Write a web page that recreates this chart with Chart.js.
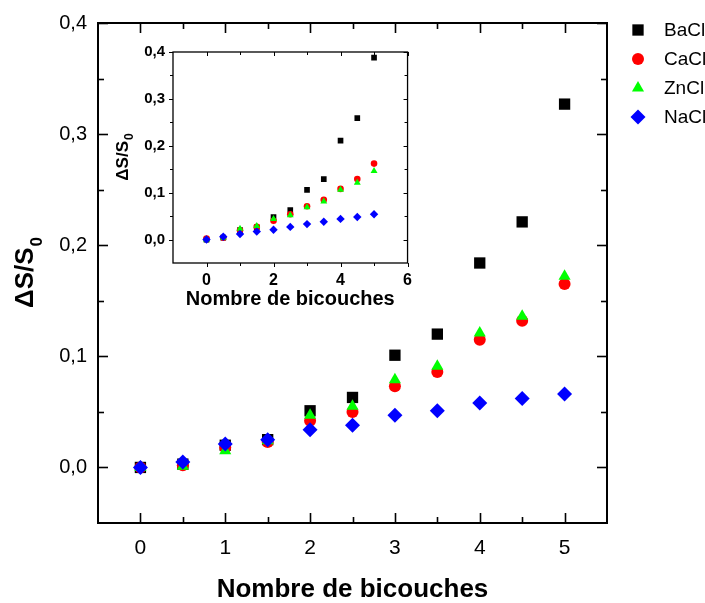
<!DOCTYPE html>
<html><head><meta charset="utf-8">
<script src="https://cdn.jsdelivr.net/npm/chart.js@4/dist/chart.umd.min.js"></script>
<style>
html,body{margin:0;padding:0;background:#fff;}
#wrap{position:relative;width:705px;height:603px;overflow:hidden;}
#main{position:absolute;left:0;top:0;}
#inset{position:absolute;left:100px;top:35px;}
</style></head><body>
<div id="wrap"><canvas id="main" width="705" height="603"></canvas><canvas id="inset" width="320" height="275"></canvas></div>
<script>
// ---- data ----
const seriesNames = ['BaCl', 'CaCl', 'ZnCl', 'NaCl'];
const layers = [0, 0.5, 1, 1.5, 2, 2.5, 3, 3.5, 4, 4.5, 5];

const mainBaCl = [0, 0.003, 0.020, 0.025, 0.051, 0.063, 0.101, 0.120, 0.184, 0.221, 0.327];
const mainCaCl = [0, 0.002, 0.018, 0.023, 0.042, 0.050, 0.073, 0.086, 0.115, 0.132, 0.165];
const mainZnCl = [0, 0.001, 0.015, 0.024, 0.047, 0.055, 0.079, 0.091, 0.121, 0.136, 0.172];
const mainNaCl = [0, 0.005, 0.021, 0.025, 0.034, 0.038, 0.047, 0.051, 0.058, 0.062, 0.066];

const insetBaCl = [0, 0.004, 0.020, 0.026, 0.048, 0.063, 0.106, 0.129, 0.211, 0.259, 0.388];
const insetCaCl = [0.002, 0.004, 0.020, 0.027, 0.040, 0.054, 0.071, 0.085, 0.108, 0.129, 0.162];
const insetZnCl = [0, 0.004, 0.023, 0.029, 0.044, 0.052, 0.069, 0.081, 0.106, 0.121, 0.146];
const insetNaCl = [0, 0.006, 0.012, 0.017, 0.021, 0.027, 0.033, 0.038, 0.044, 0.048, 0.054];

const mainXTicks = [0, 1, 2, 3, 4, 5];
const mainXMinor = [0.5, 1.5, 2.5, 3.5, 4.5];
const mainYTicks = [0, 0.1, 0.2, 0.3, 0.4];
const mainYMinor = [0.05, 0.15, 0.25, 0.35];
const insetXTicks = [0, 2, 4, 6];
const insetXMinor = [1, 3, 5];
const insetYTicks = [0, 0.1, 0.2, 0.3, 0.4];
const insetYMinor = [0.05, 0.15, 0.25, 0.35];

const xTitle = 'Nombre de bicouches';
const yTitleMain = 'ΔS/S';
const yTitleSub = '0';

// ---- styles ----
const FONT = "'Liberation Sans', Arial, sans-serif";
const colors = ['#000000', '#ff0000', '#00ff00', '#0000ff'];
const pstyles = ['rect', 'circle', 'triangle', 'rectRot'];
const mainRadii = [8, 6, 7, 7.5];
const insetRadii = [4, 3.3, 4, 4.2];
const orders = [4, 3, 2, 1];

function makeDatasets(arrs, radii) {
  return arrs.map((arr, i) => ({
    label: seriesNames[i],
    data: layers.map((x, j) => ({x: x, y: arr[j]})),
    pointStyle: pstyles[i],
    pointRadius: radii[i],
    pointHoverRadius: radii[i],
    pointBackgroundColor: colors[i],
    pointBorderColor: colors[i],
    pointBorderWidth: 0,
    showLine: false,
    order: orders[i]
  }));
}

function drawSubTitle(ctx, cx, cy, rot, size, subSize, subShift) {
  ctx.save();
  ctx.translate(cx, cy);
  if (rot) ctx.rotate(-Math.PI / 2);
  ctx.fillStyle = '#000';
  ctx.font = 'bold ' + size + 'px ' + FONT;
  const w1 = ctx.measureText(yTitleMain).width;
  ctx.font = 'bold ' + subSize + 'px ' + FONT;
  const w2 = ctx.measureText(yTitleSub).width;
  const start = -(w1 + w2) / 2;
  ctx.textBaseline = 'middle';
  ctx.textAlign = 'left';
  ctx.font = 'bold ' + size + 'px ' + FONT;
  ctx.fillText(yTitleMain, start, 0);
  ctx.font = 'bold ' + subSize + 'px ' + FONT;
  ctx.fillText(yTitleSub, start + w1 + 1, subShift);
  ctx.restore();
}

function framePlugin(cfg) {
  return {
    id: 'frameTicks',
    afterDraw(chart) {
      const ctx = chart.ctx, a = chart.chartArea, x = chart.scales.x, y = chart.scales.y;
      ctx.save();
      ctx.strokeStyle = '#000';
      ctx.lineWidth = cfg.tickLw;
      const xt = (vals, len) => vals.forEach(v => {
        const px = Math.round(x.getPixelForValue(v)) + 0.5;
        ctx.beginPath(); ctx.moveTo(px, a.bottom); ctx.lineTo(px, a.bottom + cfg.bottomDir * len); ctx.stroke();
        ctx.beginPath(); ctx.moveTo(px, a.top); ctx.lineTo(px, a.top + len); ctx.stroke();
      });
      const yt = (vals, len) => vals.forEach(v => {
        const py = Math.round(y.getPixelForValue(v)) + 0.5;
        ctx.beginPath(); ctx.moveTo(a.left, py); ctx.lineTo(a.left + cfg.leftDir * len, py); ctx.stroke();
        ctx.beginPath(); ctx.moveTo(a.right, py); ctx.lineTo(a.right - len, py); ctx.stroke();
      });
      xt(cfg.xMajor, cfg.major); xt(cfg.xMinor, cfg.minor);
      yt(cfg.yMajor, cfg.major); yt(cfg.yMinor, cfg.minor);
      ctx.lineWidth = cfg.frameLw;
      ctx.strokeRect(a.left, a.top, a.right - a.left, a.bottom - a.top);
      ctx.restore();
      cfg.titles(ctx, a);
    }
  };
}

function drawMarker(ctx, style, r, x, y) {
  if (Chart.helpers && Chart.helpers.drawPoint) {
    Chart.helpers.drawPoint(ctx, {pointStyle: style, radius: r, rotation: 0, borderWidth: 0}, x, y);
  }
}

const legendPlugin = {
  id: 'customLegend',
  afterDraw(chart) {
    const ctx = chart.ctx;
    ctx.save();
    seriesNames.forEach((name, i) => {
      const yy = 30 + i * 29;
      ctx.fillStyle = colors[i];
      ctx.strokeStyle = colors[i];
      drawMarker(ctx, pstyles[i], mainRadii[i], 638, yy);
      ctx.fillStyle = '#000';
      ctx.font = '19px ' + FONT;
      ctx.textAlign = 'left';
      ctx.textBaseline = 'middle';
      ctx.fillText(name, 664, yy + 1);
    });
    ctx.restore();
  }
};

function scaleOpts(min, max, tickVals, fmt, fontSize, bold, pad, fitKey, fitVal) {
  return {
    type: 'linear', min: min, max: max,
    afterBuildTicks: s => { s.ticks = tickVals.map(v => ({value: v})); },
    afterFit: s => { s[fitKey] = fitVal; },
    grid: {display: false, drawTicks: false},
    border: {display: false},
    ticks: {
      autoSkip: false, maxRotation: 0, minRotation: 0,
      color: '#000', padding: pad,
      font: {family: FONT, size: fontSize, weight: bold ? 'bold' : 'normal'},
      callback: fmt
    }
  };
}
const fmtY = v => v.toFixed(1).replace('.', ',');
const fmtX = v => String(v);

// ---- main chart ----
new Chart(document.getElementById('main'), {
  type: 'scatter',
  data: {datasets: makeDatasets([mainBaCl, mainCaCl, mainZnCl, mainNaCl], mainRadii)},
  options: {
    responsive: false, animation: false, devicePixelRatio: 1,
    layout: {padding: {top: 15, right: 98, left: 0, bottom: 0}},
    plugins: {legend: {display: false}, tooltip: {enabled: false}},
    scales: {
      x: scaleOpts(-0.5, 5.5, mainXTicks, fmtX, 21, false, 13, 'height', 80),
      y: scaleOpts(-0.05, 0.4, mainYTicks, fmtY, 20, false, 11, 'width', 98)
    }
  },
  plugins: [framePlugin({
    xMajor: mainXTicks, xMinor: mainXMinor, yMajor: mainYTicks, yMinor: mainYMinor,
    major: 10, minor: 6, bottomDir: -1, leftDir: 1, tickLw: 1.6, frameLw: 2,
    titles: (ctx, a) => {
      ctx.save();
      ctx.fillStyle = '#000';
      ctx.font = 'bold 26px ' + FONT;
      ctx.textAlign = 'center';
      ctx.textBaseline = 'alphabetic';
      ctx.fillText(xTitle, (a.left + a.right) / 2, 597);
      ctx.restore();
      drawSubTitle(ctx, 26, (a.top + a.bottom) / 2, true, 26, 17, 11);
    }
  }), legendPlugin]
});

// ---- inset chart ----
new Chart(document.getElementById('inset'), {
  type: 'scatter',
  data: {datasets: makeDatasets([insetBaCl, insetCaCl, insetZnCl, insetNaCl], insetRadii)},
  options: {
    responsive: false, animation: false, devicePixelRatio: 1,
    layout: {padding: {top: 12, right: 4, left: 0, bottom: 0}},
    plugins: {legend: {display: false}, tooltip: {enabled: false}},
    scales: {
      x: scaleOpts(-1, 6, insetXTicks, fmtX, 16, true, 8, 'height', 47),
      y: scaleOpts(-0.05, 0.4, insetYTicks, fmtY, 15, true, 8, 'width', 73)
    }
  },
  plugins: [framePlugin({
    xMajor: insetXTicks, xMinor: insetXMinor, yMajor: insetYTicks, yMinor: insetYMinor,
    major: 4, minor: 3, bottomDir: 1, leftDir: -1, tickLw: 1, frameLw: 1.3,
    titles: (ctx, a) => {
      ctx.save();
      ctx.fillStyle = '#000';
      ctx.font = 'bold 20px ' + FONT;
      ctx.textAlign = 'center';
      ctx.textBaseline = 'alphabetic';
      ctx.fillText(xTitle, (a.left + a.right) / 2, 270);
      ctx.restore();
      drawSubTitle(ctx, 23, (a.top + a.bottom) / 2, true, 17, 12, 7);
    }
  })]
});
</script>
</body></html>
